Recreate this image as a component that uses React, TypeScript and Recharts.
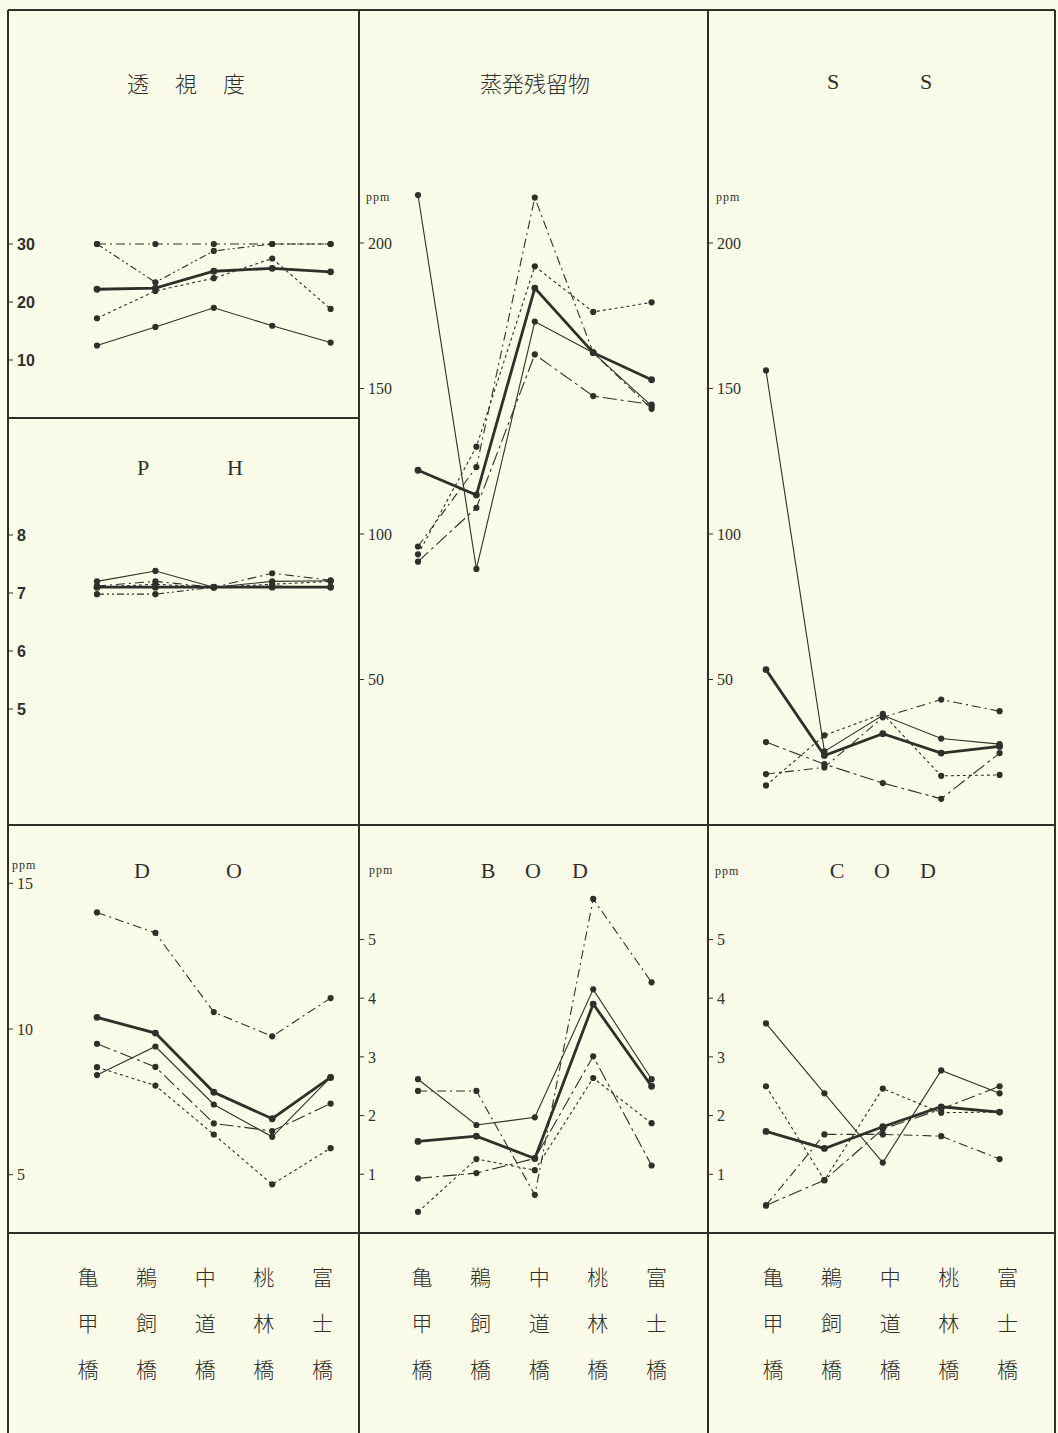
import { LineChart, Line, XAxis, YAxis } from 'recharts';

const INK = '#2f2f2b';
const PAPER = '#fbfbe9';
const STEP = 58.4; // px between stations

const stations = ['亀甲橋', '鵜飼橋', '中道橋', '桃林橋', '富士橋'];

// 透視度
const clarityTicks = [10, 20, 30];
const claritySolid = [12.5, 15.7, 19.0, 15.9, 13.0];
const clarityDot = [17.2, 21.9, 24.1, 27.5, 18.8];
const clarityDashDot = [30, 30, 30, 30, 30];
const clarityDashDot2 = [30, 23.4, 28.8, 30, 30];
const clarityMean = [22.2, 22.4, 25.3, 25.8, 25.2];

// P H
const phTicks = [5, 6, 7, 8];
const phSolid = [7.2, 7.38, 7.1, 7.2, 7.21];
const phDot = [7.1, 7.15, 7.1, 7.15, 7.2];
const phDashDot = [7.12, 7.2, 7.1, 7.34, 7.22];
const phDashDot2 = [6.98, 6.98, 7.1, 7.12, 7.1];
const phMean = [7.1, 7.1, 7.1, 7.1, 7.1];

// 蒸発残留物
const residueTicks = [50, 100, 150, 200];
const residueSolid = [216.5, 88, 173, 162.3, 144];
const residueDot = [93, 130, 192, 176.3, 179.6];
const residueDashDot = [95.7, 123, 215.6, 162.3, 143];
const residueLongDash = [90.5, 109, 161.7, 147.4, 144.5];
const residueMean = [121.9, 113.4, 184.5, 162.3, 153];

// S S
const ssTicks = [50, 100, 150, 200];
const ssSolid = [156.2, 25.3, 37.7, 29.7, 27.8];
const ssDot = [13.6, 30.8, 38.2, 16.9, 17.2];
const ssDashDot = [17.5, 19.8, 37, 43.1, 39.1];
const ssLongDash = [28.5, 20.9, 14.4, 9, 24.7];
const ssMean = [53.4, 23.9, 31.4, 24.7, 27];

// D O
const doTicks = [5, 10, 15];
const doSolid = [8.42, 9.4, 7.41, 6.3, 8.34];
const doDot = [8.69, 8.06, 6.38, 4.67, 5.91];
const doDashDot = [14.0, 13.3, 10.58, 9.75, 11.06];
const doLongDash = [9.49, 8.7, 6.76, 6.5, 7.44];
const doMean = [10.4, 9.86, 7.83, 6.92, 8.34];

// B O D
const bodTicks = [1, 2, 3, 4, 5];
const bodSolid = [2.62, 1.84, 1.97, 4.15, 2.62];
const bodDot = [0.36, 1.26, 1.07, 2.64, 1.87];
const bodDashDot = [2.42, 2.42, 0.65, 5.69, 4.27];
const bodLongDash = [0.93, 1.02, 1.27, 3.01, 1.15];
const bodMean = [1.56, 1.65, 1.27, 3.9, 2.5];

// C O D
const codTicks = [1, 2, 3, 4, 5];
const codSolid = [3.57, 2.38, 1.2, 2.77, 2.38];
const codDot = [2.5, 0.9, 2.46, 2.05, 2.06];
const codDashDot = [0.47, 1.68, 1.68, 1.65, 1.26];
const codLongDash = [0.47, 0.9, 1.77, 2.11, 2.5];
const codMean = [1.73, 1.44, 1.81, 2.15, 2.06];

type Key = 'solid' | 'dot' | 'dashDot' | 'dashDot2' | 'longDash' | 'mean';
const order: Key[] = ['solid', 'dot', 'dashDot', 'dashDot2', 'longDash', 'mean'];
const lineStyle: Record<Key, { w: number; dash?: string }> = {
  solid: { w: 1.1 },
  dot: { w: 1.1, dash: '3 3' },
  dashDot: { w: 1.1, dash: '9 4 2 4' },
  dashDot2: { w: 1.1, dash: '7 3 2 3 2 3' },
  longDash: { w: 1.1, dash: '14 4 3 4' },
  mean: { w: 2.8 },
};

function buildRows(series: Partial<Record<Key, number[]>>) {
  return stations.map((name, i) => {
    const row: any = { x: i, name };
    for (const k of order) if (series[k]) row[k] = series[k]![i];
    return row;
  });
}

interface PanelProps {
  left: number;
  top: number;
  width: number;
  height: number;
  firstX: number;
  yDomain: [number, number];
  ticks: number[];
  series: Partial<Record<Key, number[]>>;
  bold?: boolean;
}

function Panel({ left, top, width, height, firstX, yDomain, ticks, series, bold }: PanelProps) {
  const lo = -(firstX - left) / STEP;
  const hi = lo + width / STEP;
  const data = buildRows(series);
  const tickStyle = bold
    ? { fill: INK, fontSize: 16, fontWeight: 700, fontFamily: 'Liberation Sans, Arial, sans-serif' }
    : { fill: INK, fontSize: 16, fontFamily: 'Liberation Serif, Times New Roman, serif' };
  return (
    <div style={{ position: 'absolute', left, top, width, height }}>
      <LineChart width={width} height={height} data={data} margin={{ top: 0, right: 0, bottom: 0, left: 0 }}>
        <XAxis type="number" dataKey="x" domain={[lo, hi]} hide allowDataOverflow />
        <YAxis
          type="number"
          domain={yDomain}
          ticks={ticks}
          interval={0}
          mirror
          axisLine={false}
          tickLine={{ stroke: INK, strokeWidth: 1 }}
          tickSize={5}
          tickMargin={4}
          tick={tickStyle}
          allowDataOverflow
        />
        {order
          .filter(k => series[k])
          .map(k => (
            <Line
              key={k}
              type="linear"
              dataKey={k}
              stroke={INK}
              strokeWidth={lineStyle[k].w}
              strokeDasharray={lineStyle[k].dash}
              dot={{ r: k === 'mean' ? 3.4 : 3.1, fill: INK, stroke: INK, strokeWidth: 0 }}
              isAnimationActive={false}
            />
          ))}
      </LineChart>
    </div>
  );
}

function Txt({ x, y, children, size = 22, family, spacing }: { x: number; y: number; children: any; size?: number; family?: string; spacing?: number }) {
  return (
    <div
      style={{
        position: 'absolute',
        left: x - 200,
        top: y - size,
        width: 400,
        height: size * 2,
        lineHeight: `${size * 2}px`,
        textAlign: 'center',
        fontSize: size,
        fontFamily: family ?? "'Noto Sans CJK JP', sans-serif",
        fontWeight: 300,
        letterSpacing: spacing,
        color: INK,
        whiteSpace: 'nowrap',
      }}
    >
      {children}
    </div>
  );
}

const SERIF = "'Liberation Serif', 'DejaVu Serif', serif";

function Ppm({ x, y }: { x: number; y: number }) {
  return (
    <div style={{ position: 'absolute', left: x, top: y - 8, fontSize: 12, lineHeight: '16px', fontFamily: SERIF, color: INK, letterSpacing: 1 }}>
      ppm
    </div>
  );
}

function HLine({ x1, x2, y }: { x1: number; x2: number; y: number }) {
  return <div style={{ position: 'absolute', left: x1, top: y - 0.75, width: x2 - x1, height: 1.5, background: INK }} />;
}
function VLine({ x, y1, y2 }: { x: number; y1: number; y2: number }) {
  return <div style={{ position: 'absolute', left: x - 0.75, top: y1, width: 1.5, height: y2 - y1, background: INK }} />;
}

const colLeft = [8, 359, 708];
const colWidth = [351, 349, 347];
const colFirst = [97, 418, 766];
const labelFirst = [88, 422, 773];

export default function App() {
  return (
    <div style={{ position: 'absolute', left: 0, top: 0, width: 1058, height: 1433, background: PAPER, overflow: 'hidden' }}>
      {/* 透視度 */}
      <Panel
        left={colLeft[0]} top={10} width={colWidth[0]} height={408} firstX={colFirst[0]}
        yDomain={[0, 70.34]} ticks={clarityTicks} bold
        series={{ solid: claritySolid, dot: clarityDot, dashDot: clarityDashDot, dashDot2: clarityDashDot2, mean: clarityMean }}
      />
      {/* P H */}
      <Panel
        left={colLeft[0]} top={418} width={colWidth[0]} height={407} firstX={colFirst[0]}
        yDomain={[3.0, 10.017]} ticks={phTicks} bold
        series={{ solid: phSolid, dot: phDot, dashDot: phDashDot, dashDot2: phDashDot2, mean: phMean }}
      />
      {/* 蒸発残留物 */}
      <Panel
        left={colLeft[1]} top={10} width={colWidth[1]} height={815} firstX={colFirst[1]}
        yDomain={[0, 280.07]} ticks={residueTicks}
        series={{ solid: residueSolid, dot: residueDot, dashDot: residueDashDot, longDash: residueLongDash, mean: residueMean }}
      />
      {/* S S */}
      <Panel
        left={colLeft[2]} top={10} width={colWidth[2]} height={815} firstX={colFirst[2]}
        yDomain={[0, 280.07]} ticks={ssTicks}
        series={{ solid: ssSolid, dot: ssDot, dashDot: ssDashDot, longDash: ssLongDash, mean: ssMean }}
      />
      {/* D O */}
      <Panel
        left={colLeft[0]} top={825} width={colWidth[0]} height={408} firstX={colFirst[0]}
        yDomain={[3, 17]} ticks={doTicks}
        series={{ solid: doSolid, dot: doDot, dashDot: doDashDot, longDash: doLongDash, mean: doMean }}
      />
      {/* B O D */}
      <Panel
        left={colLeft[1]} top={825} width={colWidth[1]} height={408} firstX={colFirst[1]}
        yDomain={[0, 6.95]} ticks={bodTicks}
        series={{ solid: bodSolid, dot: bodDot, dashDot: bodDashDot, longDash: bodLongDash, mean: bodMean }}
      />
      {/* C O D */}
      <Panel
        left={colLeft[2]} top={825} width={colWidth[2]} height={408} firstX={colFirst[2]}
        yDomain={[0, 6.95]} ticks={codTicks}
        series={{ solid: codSolid, dot: codDot, dashDot: codDashDot, longDash: codLongDash, mean: codMean }}
      />

      {/* frame */}
      <HLine x1={8} x2={1055} y={10} />
      <HLine x1={8} x2={359} y={418} />
      <HLine x1={8} x2={1055} y={825} />
      <HLine x1={8} x2={1055} y={1233} />
      <VLine x={8} y1={10} y2={1433} />
      <VLine x={359} y1={10} y2={1433} />
      <VLine x={708} y1={10} y2={1433} />
      <VLine x={1055} y1={10} y2={1433} />

      {/* titles */}
      <Txt x={138} y={82}>透</Txt>
      <Txt x={186} y={82}>視</Txt>
      <Txt x={234} y={82}>度</Txt>
      <Txt x={143} y={468} family={SERIF}>P</Txt>
      <Txt x={235} y={468} family={SERIF}>H</Txt>
      <Txt x={535} y={82}>蒸発残留物</Txt>
      <Txt x={833} y={82} family={SERIF}>S</Txt>
      <Txt x={926} y={82} family={SERIF}>S</Txt>
      <Txt x={142} y={871} family={SERIF}>D</Txt>
      <Txt x={234} y={871} family={SERIF}>O</Txt>
      <Txt x={488} y={871} family={SERIF}>B</Txt>
      <Txt x={533} y={871} family={SERIF}>O</Txt>
      <Txt x={580} y={871} family={SERIF}>D</Txt>
      <Txt x={837} y={871} family={SERIF}>C</Txt>
      <Txt x={882} y={871} family={SERIF}>O</Txt>
      <Txt x={928} y={871} family={SERIF}>D</Txt>

      <Ppm x={366} y={197} />
      <Ppm x={716} y={197} />
      <Ppm x={12} y={865} />
      <Ppm x={369} y={870} />
      <Ppm x={715} y={871} />

      {/* station names, written vertically */}
      {labelFirst.map(start =>
        stations.map((name, i) =>
          name.split('').map((ch, j) => (
            <Txt key={`${start}-${i}-${j}`} x={start + i * 58.6} y={1276 + j * 46} size={21}>
              {ch}
            </Txt>
          ))
        )
      )}
    </div>
  );
}
